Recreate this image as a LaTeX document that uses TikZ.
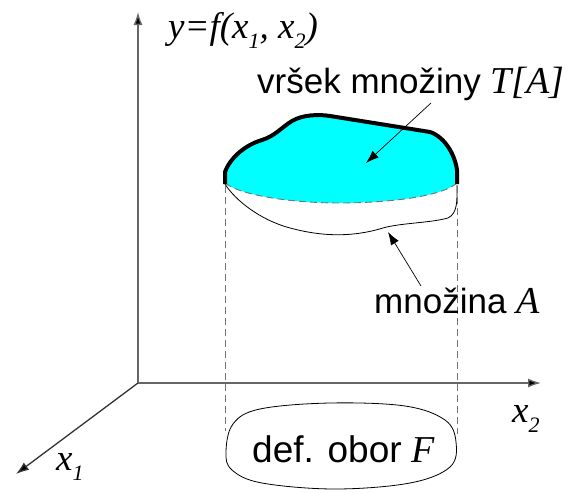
\documentclass[tikz,border=0pt]{standalone}
\usepackage{fontspec}
\setmainfont{Liberation Sans}
\newfontfamily\tms{Liberation Serif}
\usetikzlibrary{arrows.meta}
\definecolor{topcyan}{RGB}{0,255,255}
\newcommand{\mi}[1]{{\fontsize{38}{40}\selectfont\tms\itshape #1}}
\newcommand{\sbs}[1]{\raisebox{-0.28em}{\fontsize{22}{24}\selectfont\tms\itshape #1}}
\tikzset{
  axis/.style={line width=1.3pt, draw=black!60, -{Latex[length=13pt,width=9pt,fill=black]}},
  lbl/.style={inner sep=0pt, anchor=base west, font=\fontsize{35}{38}\selectfont},
  mlbl/.style={inner sep=0pt, anchor=base west, font=\fontsize{37}{40}\selectfont\tms\itshape},
  pointer/.style={line width=0.7pt, -{Latex[length=13pt,width=9pt]}},
  guide/.style={line width=0.9pt, draw=black!55, dash pattern=on 7pt off 4pt},
}
\begin{document}
\begin{tikzpicture}[x=1pt,y=-1pt]
\useasboundingbox (0,0) rectangle (571,493);
% axes
\coordinate (O) at (138,383);
\coordinate (Ytip) at (138,12);
\coordinate (X2tip) at (541,383);
\coordinate (X1tip) at (16,474);
\draw[axis] (O) -- (Ytip);
\draw[axis] (O) -- (X2tip);
\draw[axis, draw=black!80] (O) -- (X1tip);
% cyan top of set
\fill[topcyan] (225,183) -- (225,172) .. controls (230,158) and (245,145) .. (262,140)
  .. controls (275,136) and (282,127) .. (292,121)
  .. controls (302,115) and (318,114) .. (330,116) -- (430,132)
  .. controls (445,137) and (455,155) .. (457,170) -- (457,183)
  .. controls (440,198) and (380,203) .. (340,203)
  .. controls (290,203) and (240,195) .. (225,183) -- cycle;
% set A outline
\draw[line width=0.8pt] (225,184) .. controls (235,200) and (260,220) .. (290,228)
  .. controls (320,236) and (350,238) .. (383,228)
  .. controls (400,223) and (430,223) .. (448,218)
  .. controls (458,213) and (457,200) .. (457,185);
% dashed edge of cyan region
\draw[guide] (457,183) .. controls (440,198) and (380,203) .. (340,203)
  .. controls (290,203) and (240,195) .. (225,183);
% thick top boundary
\draw[line width=4pt, line join=round] (225,184) -- (225,172) .. controls (230,158) and (245,145) .. (262,140)
  .. controls (275,136) and (282,127) .. (292,121)
  .. controls (302,115) and (318,114) .. (330,116) -- (430,132)
  .. controls (445,137) and (455,155) .. (457,170) -- (457,184);
% dashed verticals
\draw[guide] (225,186) -- (225,431);
\draw[guide] (457,186) -- (457,434);
% domain F
\draw[line width=0.8pt] plot[smooth cycle, tension=0.6] coordinates
  {(226,452) (233,424) (260,409) (330,403) (405,406) (445,420) (456,442) (450,467) (410,483) (335,489) (262,483) (232,470)};
% labels
\node[lbl] (top) at (257,93) {vršek množiny \mi{T[A]}};
\node[lbl] (setA) at (374,313) {množina \mi{A}};
\node[lbl, font=\fontsize{37}{39}\selectfont] (F) at (252,462) {def. obor \mi{F}};
\node[mlbl] (ylab) at (168,38) {y=f(x\sbs{1}, x\sbs{2})};
\node[mlbl] (x2lab) at (512,422) {x\sbs{2}};
\node[mlbl] (x1lab) at (56,470) {x\sbs{1}};
% pointers
\coordinate (p1s) at (431,103);
\coordinate (p1e) at (366,163);
\coordinate (p2s) at (421,286);
\coordinate (p2e) at (388,232);
\draw[pointer] (p1s) -- (p1e);
\draw[pointer] (p2s) -- (p2e);
\end{tikzpicture}
\end{document}
